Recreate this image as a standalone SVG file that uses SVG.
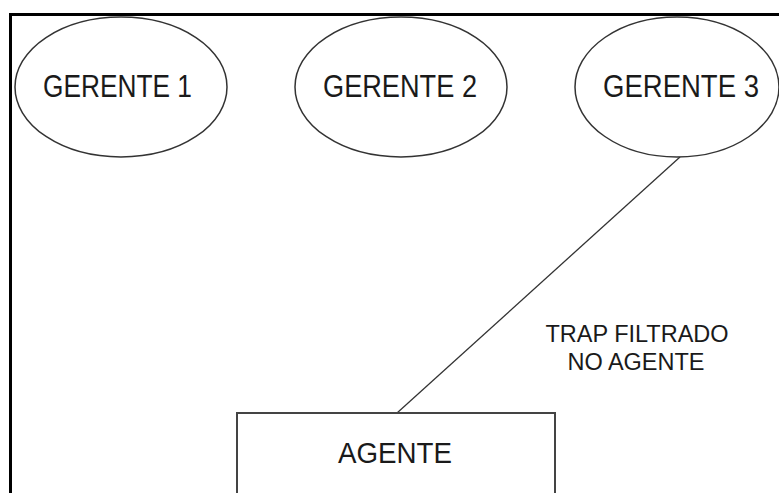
<svg xmlns="http://www.w3.org/2000/svg" width="779" height="493" viewBox="0 0 779 493">
<style>
.node ellipse{fill:#fff;stroke:#333;stroke-width:1.5}
.node rect{fill:#fff;stroke:#444;stroke-width:2}
text{font-family:"Liberation Sans",Arial,sans-serif;fill:#1a1a1a}
.big{font-size:31px}
.small{font-size:23.5px}
.conn line{stroke:#333;stroke-width:1.3}
</style>
<rect x="0" y="0" width="779" height="493" fill="#fff"/>
<g id="frame">
<line x1="9" y1="14.5" x2="779" y2="14.5" stroke="#000" stroke-width="3"/>
<line x1="10.5" y1="13" x2="10.5" y2="493" stroke="#000" stroke-width="3"/>
</g>
<g id="connectors" class="conn">
<line x1="680" y1="157" x2="397" y2="413"/>
</g>
<g id="gerente1" class="node">
<ellipse cx="121" cy="87" rx="106" ry="70"/>
<text class="big" x="43" y="97" textLength="149" lengthAdjust="spacingAndGlyphs">GERENTE 1</text>
</g>
<g id="gerente2" class="node">
<ellipse cx="401" cy="87" rx="106" ry="70"/>
<text class="big" x="323" y="97" textLength="154" lengthAdjust="spacingAndGlyphs">GERENTE 2</text>
</g>
<g id="gerente3" class="node">
<ellipse cx="677" cy="87" rx="102" ry="70"/>
<text class="big" x="603" y="97" textLength="156" lengthAdjust="spacingAndGlyphs">GERENTE 3</text>
</g>
<g id="agente" class="node">
<rect x="237" y="413" width="318" height="100"/>
<text class="big" x="338" y="463" font-size="29" style="font-size:29px" textLength="114" lengthAdjust="spacingAndGlyphs">AGENTE</text>
</g>
<g id="label">
<text class="small" x="637" y="342" text-anchor="middle">TRAP FILTRADO</text>
<text class="small" x="636" y="370" text-anchor="middle">NO AGENTE</text>
</g>
</svg>
